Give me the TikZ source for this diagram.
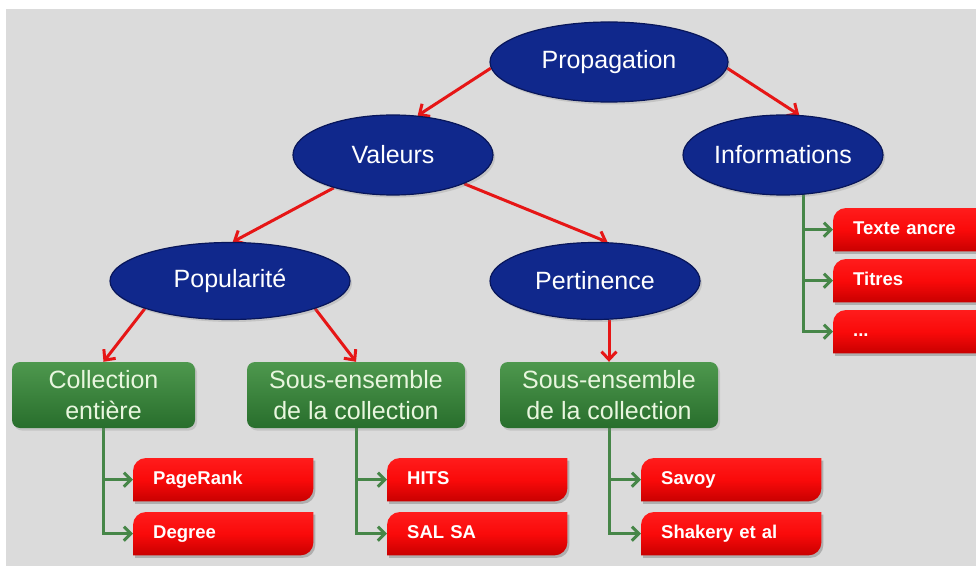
\documentclass[tikz,border=0pt]{standalone}
\usepackage{fontspec}
\setmainfont{Liberation Sans}
\usetikzlibrary{shapes.geometric,arrows.meta,shadows,backgrounds}
\definecolor{bggray}{RGB}{219,219,219}
\definecolor{navy}{RGB}{16,40,140}
\definecolor{navyedge}{RGB}{8,22,90}
\definecolor{gtop}{RGB}{78,152,78}
\definecolor{gbot}{RGB}{40,110,44}
\definecolor{gtxt}{RGB}{232,246,222}
\definecolor{rtop}{RGB}{255,28,28}
\definecolor{rmid}{RGB}{250,10,10}
\definecolor{rbot}{RGB}{200,0,0}
\definecolor{arrred}{RGB}{230,22,22}
\definecolor{glink}{RGB}{70,134,72}
\newcommand\rshape[2]{\path[#2] (#1.south west) -- ([yshift=-13pt]#1.north west) arc[start angle=180,end angle=90,radius=13pt] -- (#1.north east) -- ([yshift=13pt]#1.south east) arc[start angle=0,end angle=-90,radius=13pt] -- cycle;}
\begin{document}
\begin{tikzpicture}[x=1pt,y=1pt,
  oval/.style={ellipse, fill=navy, draw=navyedge, line width=1.2pt, text=white,
    font=\fontsize{25}{29}\selectfont, inner sep=0pt,
    drop shadow={opacity=0.25, shadow xshift=2pt, shadow yshift=-2.5pt}},
  gbox/.style={rectangle, rounded corners=8pt, top color=gtop, bottom color=gbot,
    draw=none, text=gtxt, font=\fontsize{25}{31}\selectfont, align=center,
    minimum height=66pt, inner sep=0pt,
    drop shadow={opacity=0.25, shadow xshift=2pt, shadow yshift=-2.5pt}},
  rbox/.style={rectangle, anchor=north west, minimum width=180pt, minimum height=43pt,
    text width=140pt, inner xsep=20pt, inner ysep=0pt, align=left, text=white,
    text height=13.5pt, text depth=4pt,
    font=\bfseries\fontsize{18.5}{22}\selectfont},
  rarr/.style={draw=arrred, line width=3pt, -{Straight Barb[length=8pt,width=15pt]}},
  garr/.style={draw=glink, line width=3pt, -{Straight Barb[length=7pt,width=14pt]}},
]
\useasboundingbox (0,0) rectangle (976,-572);

% ellipses
\node[oval, minimum width=238pt, minimum height=80pt] (prop) at (609,-62) {Propagation};
\node[oval, minimum width=200pt, minimum height=80pt] (val) at (393,-155) {Valeurs};
\node[oval, minimum width=200pt, minimum height=80pt] (inf) at (783,-155) {Informations};
\node[oval, minimum width=240pt, minimum height=77pt] (pop) at (230,-281) {Popularité};
\node[oval, minimum width=210pt, minimum height=77pt] (per) at (595,-281) {Pertinence};

% green boxes
\node[gbox, minimum width=183pt] (c1) at (103.5,-395) {Collection\\entière};
\node[gbox, minimum width=218pt] (s1) at (356,-395) {Sous-ensemble\\de la collection};
\node[gbox, minimum width=218pt] (s2) at (609,-395) {Sous-ensemble\\de la collection};

% red boxes
\node[rbox] (pr) at (133,-458) {PageRank};
\node[rbox] (dg) at (133,-512) {Degree};
\node[rbox] (hi) at (387,-458) {HITS};
\node[rbox] (sa) at (387,-512) {SAL SA};
\node[rbox] (sv) at (641,-458) {Savoy};
\node[rbox] (sh) at (641,-512) {Shakery et al};
\node[rbox] (ta) at (833,-208) {Texte ancre};
\node[rbox] (ti) at (833,-259) {Titres};
\node[rbox] (dt) at (833,-310) {...};

\begin{pgfonlayer}{background}
  \fill[white] (0,0) rectangle (976,-572);
  \fill[bggray] (6,-9) rectangle (976,-566);
  % red arrows
  \draw[rarr] (prop.183) -- (val.58);
  \draw[rarr] (prop.-3) -- (inf.68);
  \draw[rarr] (val.209) -- (pop.86);
  \draw[rarr] (val.-22) -- (per.72);
  \draw[rarr] (pop.198) -- (c1.north);
  \draw[rarr] (pop.-18) -- (s1.north);
  \draw[rarr] (s2.north |- per.south) -- (s2.north);
  % green connectors
  \draw[garr] (c1.south) |- (pr.west);
  \draw[garr] (c1.south) |- (dg.west);
  \draw[garr] (s1.south) |- (hi.west);
  \draw[garr] (s1.south) |- (sa.west);
  \draw[garr] (s2.south) |- (sv.west);
  \draw[garr] (s2.south) |- (sh.west);
  \coordinate (infb) at ([xshift=20pt,yshift=2pt]inf.south);
  \draw[garr] (infb) |- (ta.west);
  \draw[garr] (infb) |- (ti.west);
  \draw[garr] (infb) |- (dt.west);
  % red box shapes
  \foreach \n in {pr,dg,hi,sa,sv,sh,ta,ti,dt}{
    \begin{scope}[transform canvas={shift={(2pt,-2.5pt)}}]
      \rshape{\n}{fill=black, opacity=0.2}
    \end{scope}
    \rshape{\n}{top color=rtop, bottom color=rbot, middle color=rmid}
  }
\end{pgfonlayer}
\end{tikzpicture}
\end{document}
